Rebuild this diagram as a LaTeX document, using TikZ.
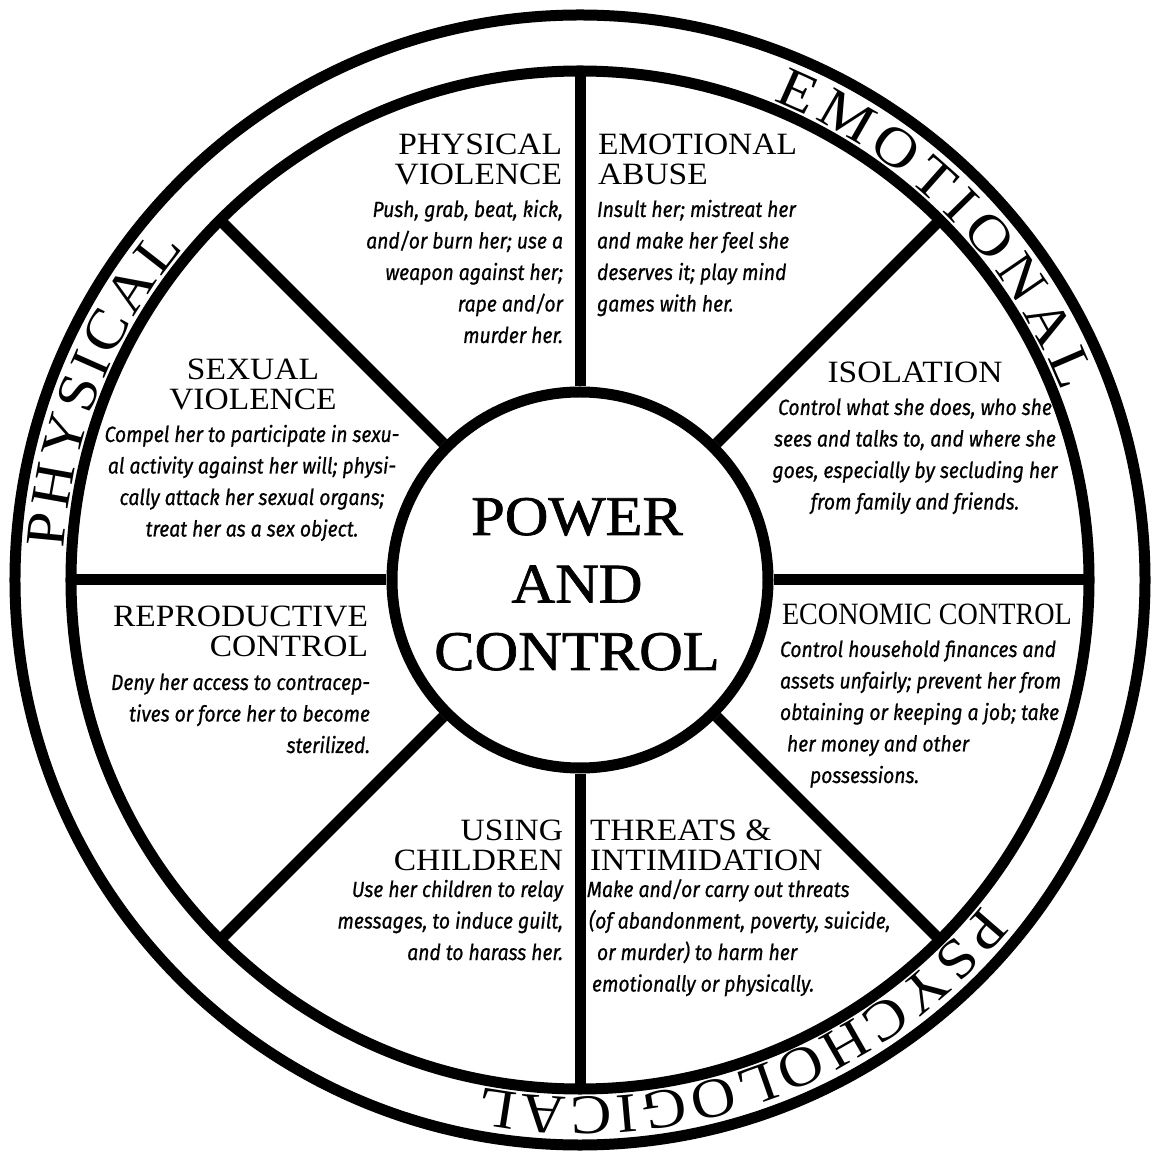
\documentclass[tikz,border=0pt]{standalone}
\usepackage{fontspec}
\usepackage{graphicx}
\usetikzlibrary{decorations.text}
\newfontfamily\headfont{Liberation Serif}[FakeStretch=1.08]
\newfontfamily\centerfont{Liberation Serif}[FakeStretch=1.08,FakeBold=1.2]
\newfontfamily\ringfontfam{Liberation Serif}[FakeStretch=1.1]
\newfontfamily\bodyfont{Fira Sans}[FakeStretch=0.88,FakeBold=0.7]
\newcommand\hdfont{\fontsize{31}{30}\selectfont\headfont}
\newcommand\bdfont{\fontsize{22}{31.5}\selectfont\bodyfont\itshape}
\newcommand\ringfnt{\fontsize{56}{56}\selectfont\ringfontfam}
\begin{document}
\begin{tikzpicture}[x=1pt,y=1pt,
  wheel/.style={draw=black,line width=11pt},
  spoke/.style={draw=black,line width=11pt},
  lbl/.style={inner sep=0pt,outer sep=0pt},
  ringtext/.style={decorate,decoration={text along path,text align=fit to path,text={|\ringfnt|#1}}}]
\useasboundingbox (-580,-575) rectangle (571,580);
\fill[white] (-580,-575) rectangle (571,580);
% rings
\draw[wheel] (0,0) circle[radius=565];
\draw[wheel] (0,0) circle[radius=509];
\node[circle,draw=black,line width=11pt,minimum size=376pt,inner sep=0pt] (pc) at (0,0) {};
\foreach \a in {0,45,...,315} {
  \coordinate (r\a) at (\a:509);
  \draw[spoke] (pc.\a) -- (r\a);
}
% ring texts
\path[ringtext=PHYSICAL] (176.5:517) arc[start angle=176.5,end angle=140,radius=517];
\path[ringtext=EMOTIONAL] (68:517) arc[start angle=68,end angle=21.3,radius=517];
\path[ringtext=PSYCHOLOGICAL] (-39:517) arc[start angle=-39,end angle=-101,radius=517];
% center
\node[lbl,anchor=base] (pctext) at (-3,45) {\fontsize{56}{67.5}\selectfont\centerfont\begin{tabular}[t]{@{}c@{}}POWER\\AND\\CONTROL\end{tabular}};
% physical violence
\node[lbl,anchor=base east] (pvh) at (-18,425) {\hdfont\begin{tabular}[t]{@{}r@{}}PHYSICAL\\VIOLENCE\end{tabular}};
\node[lbl,anchor=base east] (pvb) at (-17,363) {\bdfont\begin{tabular}[t]{@{}r@{}}Push, grab, beat, kick,\\and/or burn her; use a\\weapon against her;\\rape and/or\\murder her.\end{tabular}};
% emotional abuse
\node[lbl,anchor=base west] (eah) at (18,425) {\hdfont\begin{tabular}[t]{@{}l@{}}EMOTIONAL\\ABUSE\end{tabular}};
\node[lbl,anchor=base west] (eab) at (17,363) {\bdfont\begin{tabular}[t]{@{}l@{}}Insult her; mistreat her\\and make her feel she\\deserves it; play mind\\games with her.\end{tabular}};
% isolation
\node[lbl,anchor=base] (ish) at (335,197) {\hdfont ISOLATION};
\node[lbl,anchor=base] (isb) at (335,165) {\bdfont\begin{tabular}[t]{@{}c@{}}Control what she does, who she\\sees and talks to, and where she\\goes, especially by secluding her\\from family and friends.\end{tabular}};
% economic control
\node[lbl,anchor=base west] (ech) at (202,-45) {\hdfont\scalebox{0.84}[1]{ECONOMIC CONTROL}};
\node[lbl,anchor=base west] (ecb) at (200,-77) {\bdfont\begin{tabular}[t]{@{}l@{}}Control household finances and\\assets unfairly; prevent her from\\obtaining or keeping a job; take\\\hspace{7pt}her money and other\\\hspace{30pt}possessions.\end{tabular}};
% threats
\node[lbl,anchor=base west] (thh) at (10,-260) {\hdfont\begin{tabular}[t]{@{}l@{}}THREATS \&\\INTIMIDATION\end{tabular}};
\node[lbl,anchor=base west] (thb) at (7,-317) {\bdfont\begin{tabular}[t]{@{}l@{}}Make and/or carry out threats\\\hspace{2pt}(of abandonment, poverty, suicide,\\\hspace{10pt}or murder) to harm her\\\hspace{5pt}emotionally or physically.\end{tabular}};
% using children
\node[lbl,anchor=base east] (uch) at (-17,-260) {\hdfont\begin{tabular}[t]{@{}r@{}}USING\\CHILDREN\end{tabular}};
\node[lbl,anchor=base east] (ucb) at (-17,-317) {\bdfont\begin{tabular}[t]{@{}r@{}}Use her children to relay\\messages, to induce guilt,\\and to harass her.\end{tabular}};
% reproductive control
\node[lbl,anchor=base east] (rch) at (-212,-47) {\hdfont\begin{tabular}[t]{@{}r@{}}REPRODUCTIVE\\CONTROL\end{tabular}};
\node[lbl,anchor=base east] (rcb) at (-210,-110) {\bdfont\begin{tabular}[t]{@{}r@{}}Deny her access to contracep-\\tives or force her to become\\sterilized.\end{tabular}};
% sexual violence
\node[lbl,anchor=base] (svh) at (-327,200) {\hdfont\begin{tabular}[t]{@{}c@{}}SEXUAL\\VIOLENCE\end{tabular}};
\node[lbl,anchor=base] (svb) at (-328,138) {\bdfont\begin{tabular}[t]{@{}c@{}}Compel her to participate in sexu-\\al activity against her will; physi-\\cally attack her sexual organs;\\treat her as a sex object.\end{tabular}};
\end{tikzpicture}
\end{document}
